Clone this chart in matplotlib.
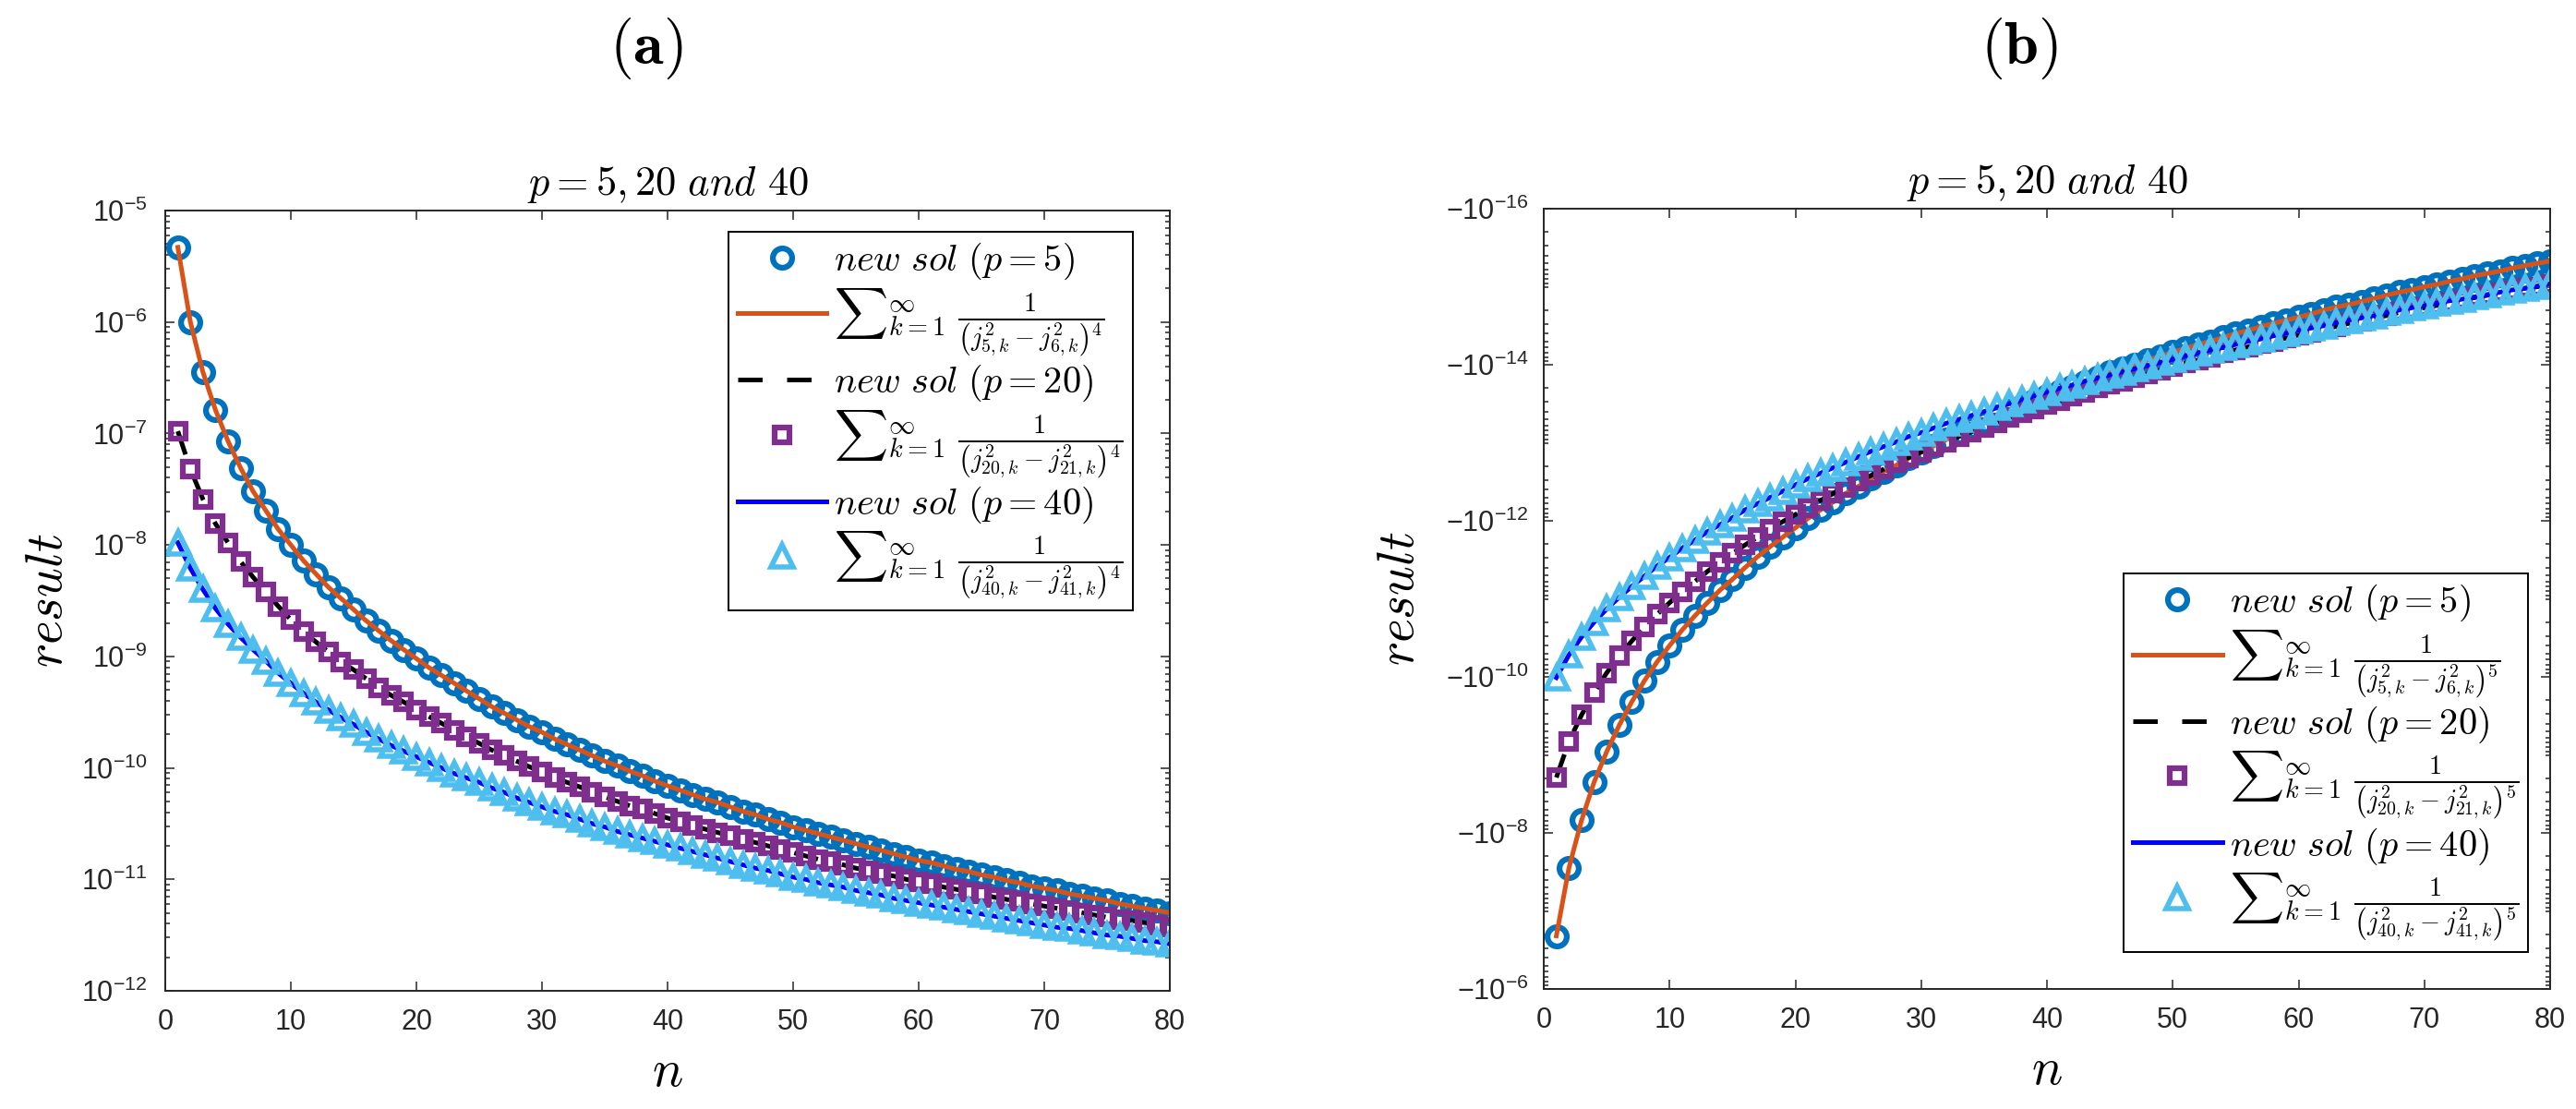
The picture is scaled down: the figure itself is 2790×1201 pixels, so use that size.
import numpy as np
import matplotlib
matplotlib.use("Agg")
import matplotlib.pyplot as plt
from matplotlib.ticker import FixedLocator, FixedFormatter, LogLocator, NullFormatter

plt.rcParams['mathtext.fontset'] = 'cm'
plt.rcParams['font.family'] = ['Liberation Sans', 'DejaVu Sans']

n = np.arange(1, 81)

# ---------- panel (a): log10 of result ----------
a_p5_log10 = [
    -5.33, -6.00, -6.45, -6.79, -7.07, -7.31, -7.52, -7.69, -7.86, -8.00,
    -8.14, -8.26, -8.38, -8.48, -8.58, -8.68, -8.77, -8.86, -8.94, -9.02,
    -9.10, -9.17, -9.24, -9.31, -9.38, -9.45, -9.51, -9.57, -9.63, -9.68,
    -9.74, -9.79, -9.84, -9.89, -9.94, -9.98, -10.03, -10.07, -10.12, -10.16,
    -10.20, -10.24, -10.28, -10.31, -10.35, -10.39, -10.42, -10.46, -10.49, -10.53,
    -10.56, -10.59, -10.62, -10.65, -10.68, -10.71, -10.74, -10.77, -10.80, -10.83,
    -10.85, -10.88, -10.91, -10.93, -10.96, -10.98, -11.01, -11.03, -11.06, -11.08,
    -11.10, -11.13, -11.15, -11.17, -11.19, -11.22, -11.24, -11.26, -11.28, -11.30]
a_p20_log10 = [
    -6.98, -7.32, -7.59, -7.81, -7.98, -8.15, -8.29, -8.42, -8.55, -8.67,
    -8.78, -8.87, -8.96, -9.05, -9.12, -9.20, -9.28, -9.35, -9.41, -9.48,
    -9.54, -9.60, -9.66, -9.72, -9.78, -9.84, -9.89, -9.94, -9.99, -10.04,
    -10.09, -10.13, -10.17, -10.22, -10.26, -10.30, -10.34, -10.37, -10.41, -10.45,
    -10.48, -10.52, -10.55, -10.58, -10.61, -10.64, -10.67, -10.70, -10.73, -10.76,
    -10.79, -10.82, -10.84, -10.87, -10.90, -10.92, -10.95, -10.97, -11.00, -11.02,
    -11.04, -11.07, -11.09, -11.11, -11.13, -11.16, -11.18, -11.20, -11.22, -11.24,
    -11.26, -11.28, -11.30, -11.32, -11.34, -11.36, -11.37, -11.39, -11.41, -11.43]
a_p40_log10 = [
    -7.98, -8.21, -8.40, -8.57, -8.71, -8.83, -8.94, -9.04, -9.15, -9.24,
    -9.33, -9.41, -9.48, -9.55, -9.61, -9.68, -9.74, -9.80, -9.85, -9.90,
    -9.95, -10.00, -10.05, -10.09, -10.13, -10.18, -10.22, -10.27, -10.31, -10.35,
    -10.39, -10.42, -10.46, -10.50, -10.53, -10.57, -10.60, -10.63, -10.66, -10.69,
    -10.72, -10.75, -10.78, -10.81, -10.84, -10.87, -10.90, -10.92, -10.95, -10.98,
    -11.00, -11.03, -11.05, -11.07, -11.10, -11.12, -11.14, -11.17, -11.19, -11.21,
    -11.23, -11.25, -11.27, -11.29, -11.31, -11.33, -11.35, -11.37, -11.39, -11.41,
    -11.43, -11.44, -11.46, -11.48, -11.50, -11.51, -11.53, -11.55, -11.56, -11.58]

# ---------- panel (b): log10 of |result| (results are negative) ----------
b_p5_log10_abs = [
    -6.68, -7.55, -8.16, -8.65, -9.04, -9.38, -9.68, -9.95, -10.19, -10.40,
    -10.60, -10.78, -10.95, -11.11, -11.25, -11.40, -11.54, -11.67, -11.79, -11.91,
    -12.03, -12.14, -12.24, -12.35, -12.44, -12.54, -12.63, -12.71, -12.80, -12.88,
    -12.96, -13.04, -13.12, -13.20, -13.27, -13.34, -13.41, -13.47, -13.54, -13.60,
    -13.66, -13.72, -13.78, -13.84, -13.90, -13.95, -14.00, -14.06, -14.11, -14.16,
    -14.21, -14.26, -14.30, -14.35, -14.40, -14.44, -14.49, -14.53, -14.57, -14.61,
    -14.65, -14.70, -14.74, -14.77, -14.81, -14.85, -14.89, -14.93, -14.96, -15.00,
    -15.03, -15.07, -15.10, -15.14, -15.17, -15.20, -15.24, -15.27, -15.30, -15.33]
b_p20_log10_abs = [
    -8.71, -9.17, -9.51, -9.80, -10.05, -10.27, -10.46, -10.64, -10.80, -10.95,
    -11.09, -11.22, -11.35, -11.47, -11.58, -11.69, -11.79, -11.89, -11.99, -12.08,
    -12.17, -12.26, -12.35, -12.43, -12.51, -12.58, -12.66, -12.74, -12.81, -12.88,
    -12.95, -13.01, -13.08, -13.14, -13.20, -13.26, -13.32, -13.38, -13.43, -13.49,
    -13.54, -13.60, -13.65, -13.70, -13.75, -13.79, -13.84, -13.88, -13.93, -13.98,
    -14.02, -14.06, -14.10, -14.15, -14.19, -14.23, -14.27, -14.30, -14.34, -14.38,
    -14.42, -14.46, -14.49, -14.53, -14.56, -14.60, -14.63, -14.67, -14.70, -14.73,
    -14.76, -14.79, -14.83, -14.86, -14.89, -14.92, -14.95, -14.98, -15.00, -15.03]
b_p40_log10_abs = [
    -9.99, -10.28, -10.51, -10.70, -10.87, -11.02, -11.16, -11.29, -11.42, -11.53,
    -11.65, -11.75, -11.86, -11.95, -12.04, -12.14, -12.22, -12.30, -12.38, -12.46,
    -12.54, -12.61, -12.68, -12.75, -12.82, -12.89, -12.95, -13.01, -13.08, -13.13,
    -13.19, -13.25, -13.30, -13.35, -13.40, -13.45, -13.50, -13.55, -13.60, -13.65,
    -13.70, -13.74, -13.79, -13.83, -13.87, -13.91, -13.95, -13.99, -14.03, -14.07,
    -14.11, -14.15, -14.19, -14.22, -14.26, -14.30, -14.33, -14.37, -14.40, -14.44,
    -14.47, -14.50, -14.54, -14.57, -14.60, -14.63, -14.67, -14.70, -14.73, -14.76,
    -14.79, -14.82, -14.84, -14.87, -14.90, -14.93, -14.96, -14.98, -15.01, -15.04]

x_ticks = [0, 10, 20, 30, 40, 50, 60, 70, 80]
a_y_exps = [-12, -11, -10, -9, -8, -7, -6, -5]
b_y_exps = [-16, -14, -12, -10, -8, -6]

C_CIRC = '#0072BD'
C_ORANGE = '#D95319'
C_PURPLE = '#7E2F8E'
C_CYAN = '#4DBEEE'
AX_COL = '#262626'


def labels_for(power):
    return [
        r'$new\ sol\ (p=5)$',
        r'${\sum}_{k=1}^{\infty}\ \frac{1}{\left(j_{5,k}^{2}-j_{6,k}^{2}\right)^{%d}}$' % power,
        r'$new\ sol\ (p=20)$',
        r'${\sum}_{k=1}^{\infty}\ \frac{1}{\left(j_{20,k}^{2}-j_{21,k}^{2}\right)^{%d}}$' % power,
        r'$new\ sol\ (p=40)$',
        r'${\sum}_{k=1}^{\infty}\ \frac{1}{\left(j_{40,k}^{2}-j_{41,k}^{2}\right)^{%d}}$' % power,
    ]


def draw(ax, v5, v20, v40, power):
    lab = labels_for(power)
    ax.plot(n, v5, ls='none', marker='o', ms=15, mew=4.5, mfc='none', mec=C_CIRC, label=lab[0])
    ax.plot(n, v5, '-', color=C_ORANGE, lw=3.6, label=lab[1])
    ax.plot(n, v20, color='k', lw=3.6, dashes=(5.3, 5.3), label=lab[2])
    ax.plot(n, v20, ls='none', marker='s', ms=11, mew=4.5, mfc='none', mec=C_PURPLE, label=lab[3])
    ax.plot(n, v40, '-', color='#0000FF', lw=3.6, label=lab[4])
    ax.plot(n, v40, ls='none', marker='^', ms=17, mew=4.0, mfc='none', mec=C_CYAN, label=lab[5])


def style(ax, ypad):
    ax.set_xlim(0, 80)
    ax.xaxis.set_major_locator(FixedLocator(x_ticks))
    ax.xaxis.set_major_formatter(FixedFormatter([str(t) for t in x_ticks]))
    ax.tick_params(axis='both', which='both', direction='in', top=True, right=True,
                   colors=AX_COL, width=1.1, labelsize=22)
    ax.tick_params(axis='both', which='major', length=7.2)
    ax.tick_params(axis='both', which='minor', length=3.6)
    ax.tick_params(axis='x', pad=14)
    ax.tick_params(axis='y', pad=ypad)
    for s in ax.spines.values():
        s.set_color(AX_COL)
        s.set_linewidth(1.4)
    ax.set_title(r'$p=5,20\ and\ 40$', fontsize=32, pad=12)
    ax.set_xlabel(r'$n$', fontsize=40)
    ax.set_ylabel(r'$result$', fontsize=40)


fig = plt.figure(figsize=(27.9, 12.01), dpi=100)
axa = fig.add_axes([179 / 2790, 1 - 1073 / 1201, 1088 / 2790, 845 / 1201])
axb = fig.add_axes([1672 / 2790, 1 - 1071 / 1201, 1090 / 2790, 845 / 1201])

# panel (a)
draw(axa, 10.0 ** np.array(a_p5_log10), 10.0 ** np.array(a_p20_log10),
     10.0 ** np.array(a_p40_log10), 4)
axa.set_yscale('log')
axa.set_ylim(1e-12, 1e-5)
axa.yaxis.set_major_locator(FixedLocator([10.0 ** e for e in a_y_exps]))
axa.yaxis.set_major_formatter(FixedFormatter([r'$\mathregular{10^{%d}}$' % e for e in a_y_exps]))
axa.yaxis.set_minor_locator(LogLocator(base=10, subs=np.arange(2, 10), numticks=100))
axa.yaxis.set_minor_formatter(NullFormatter())
style(axa, 14)

# panel (b): magnitudes on an inverted log axis, labelled as negative values
draw(axb, 10.0 ** np.array(b_p5_log10_abs), 10.0 ** np.array(b_p20_log10_abs),
     10.0 ** np.array(b_p40_log10_abs), 5)
axb.set_yscale('log')
axb.set_ylim(1e-6, 1e-16)
axb.yaxis.set_major_locator(FixedLocator([10.0 ** e for e in b_y_exps]))
axb.yaxis.set_major_formatter(FixedFormatter([r'$\mathregular{-10^{%d}}$' % e for e in b_y_exps]))
axb.yaxis.set_minor_locator(LogLocator(base=10, subs=np.arange(1, 10), numticks=100))
axb.yaxis.set_minor_formatter(NullFormatter())
style(axb, 12)

# axis-label positions
axa.xaxis.set_label_coords(0.5, -0.105)
axb.xaxis.set_label_coords(0.5, -0.105)
axa.yaxis.set_label_coords(-0.116, 0.5)
axb.yaxis.set_label_coords(-0.142, 0.5)
for ax in (axa, axb):
    ax.xaxis.label.set_va('center')
    ax.yaxis.label.set_va('center')

# legends
leg_kw = dict(fontsize=29, frameon=True, fancybox=False, framealpha=1, edgecolor='k',
              borderaxespad=0, handlelength=2.4, handletextpad=0.2, labelspacing=0.12,
              borderpad=0.25)
la = axa.legend(loc='upper right', bbox_to_anchor=(0.963, 0.973), **leg_kw)
lb = axb.legend(loc='upper right', bbox_to_anchor=(0.978, 0.533), **leg_kw)
for lg in (la, lb):
    lg.get_frame().set_linewidth(1.4)

# panel letters
fig.text(700 / 2790, 1 - 53 / 1201, r'$\mathbf{(a)}$', fontsize=48,
         ha='center', va='center')
fig.text(2187 / 2790, 1 - 53 / 1201, r'$\mathbf{(b)}$', fontsize=48,
         ha='center', va='center')

fig.savefig('out.png', dpi=100, facecolor='white')
